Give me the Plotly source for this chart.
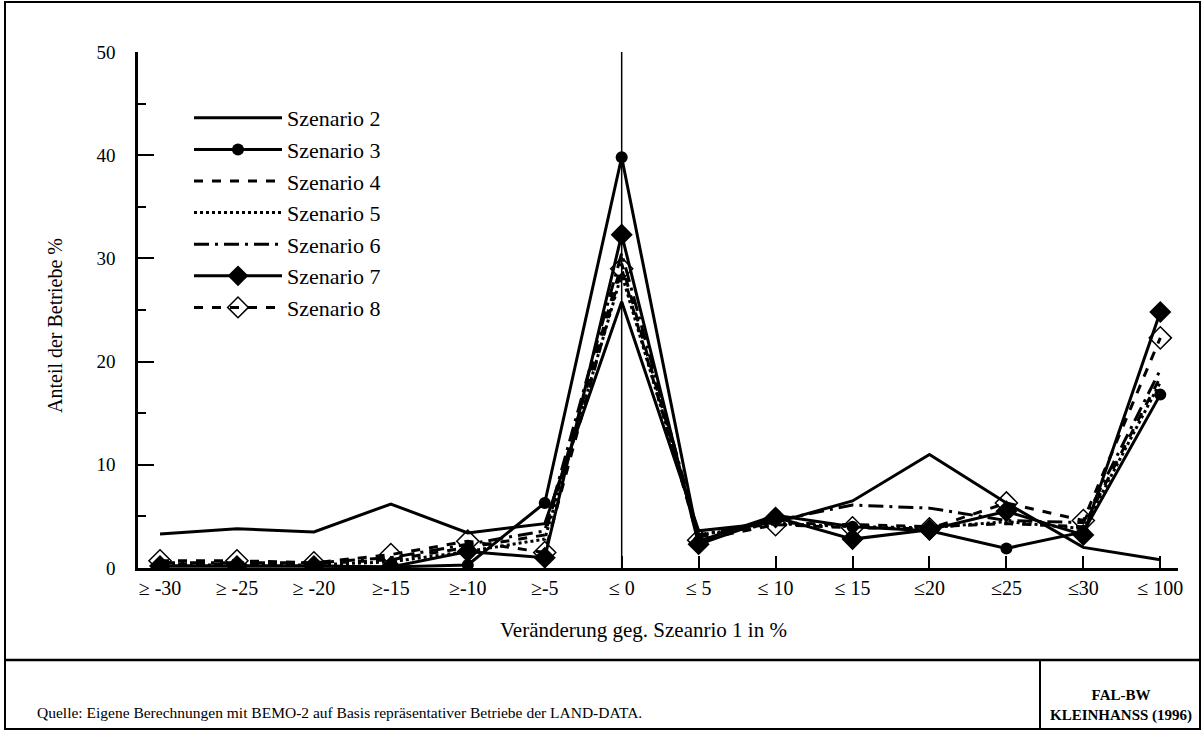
import plotly.graph_objects as go

categories = ["≥ -30", "≥ -25", "≥ -20", "≥-15", "≥-10", "≥-5", "≤ 0",
              "≤ 5", "≤ 10", "≤ 15", "≤20", "≤25", "≤30", "≤ 100"]

szenario_2 = [3.3, 3.8, 3.5, 6.2, 3.4, 4.3, 25.8, 3.6, 4.4, 6.5, 11.0, 6.3, 2.0, 0.8]
szenario_3 = [0.2, 0.2, 0.2, 0.1, 0.3, 6.3, 39.8, 2.6, 5.1, 4.0, 3.6, 1.9, 3.5, 16.8]
szenario_4 = [0.4, 0.4, 0.4, 0.8, 2.0, 3.2, 29.5, 3.0, 4.4, 4.2, 4.0, 4.3, 4.0, 18.5]
szenario_5 = [0.3, 0.3, 0.3, 0.6, 1.6, 2.8, 28.5, 3.2, 4.3, 4.0, 3.9, 4.5, 3.8, 18.0]
szenario_6 = [0.5, 0.5, 0.5, 1.0, 2.3, 3.6, 30.5, 3.2, 4.6, 6.1, 5.8, 4.6, 4.4, 19.2]
szenario_7 = [0.2, 0.2, 0.2, 0.1, 1.6, 1.0, 32.3, 2.3, 4.9, 2.8, 3.7, 5.5, 3.2, 24.8]
szenario_8 = [0.7, 0.7, 0.5, 1.3, 2.6, 1.5, 29.0, 2.7, 4.2, 3.9, 3.8, 6.3, 4.6, 22.3]

series_names = ["Szenario 2", "Szenario 3", "Szenario 4", "Szenario 5",
                "Szenario 6", "Szenario 7", "Szenario 8"]

FONT = "Liberation Serif, Times New Roman, serif"
BLACK = "#000000"

# pixel -> paper helpers for layout decoration
L, R, T, B = 138, 1178, 52, 568
def px(x):
    return (x - L) / (R - L)
def py(y):
    return (B - y) / (B - T)

fig = go.Figure()

styles = [
    dict(series=szenario_2, dash="solid", mode="lines", marker=None),
    dict(series=szenario_3, dash="solid", mode="lines+markers",
         marker=dict(symbol="circle", size=12, color=BLACK)),
    dict(series=szenario_4, dash="dash", mode="lines", marker=None),
    dict(series=szenario_5, dash="dot", mode="lines", marker=None),
    dict(series=szenario_6, dash="longdashdot", mode="lines", marker=None),
    dict(series=szenario_7, dash="solid", mode="lines+markers",
         marker=dict(symbol="diamond", size=17, color=BLACK)),
    dict(series=szenario_8, dash="dash", mode="lines+markers",
         marker=dict(symbol="diamond-open", size=17, color=BLACK,
                     line=dict(width=1.5, color=BLACK))),
]

for name, st in zip(series_names, styles):
    kw = dict(x=categories, y=st["series"], name=name, mode=st["mode"],
              line=dict(color=BLACK, width=3, dash=st["dash"]),
              legendgroup=name)
    if st["marker"] is not None:
        kw["marker"] = st["marker"]
    fig.add_trace(go.Scatter(**kw))

# vertical reference line at "≤ 0"
fig.add_shape(type="line", xref="x", yref="paper",
              x0=categories.index("≤ 0"), x1=categories.index("≤ 0"),
              y0=0, y1=1, line=dict(color=BLACK, width=1.5), layer="below")

# frame lines
frame = dict(color=BLACK, width=2)
fig.add_shape(type="rect", xref="paper", yref="paper",
              x0=px(5), x1=px(1200), y0=py(729), y1=py(2), line=frame)
fig.add_shape(type="line", xref="paper", yref="paper",
              x0=px(5), x1=px(1200), y0=py(660), y1=py(660),
              line=dict(color=BLACK, width=2.5))
fig.add_shape(type="line", xref="paper", yref="paper",
              x0=px(1040), x1=px(1040), y0=py(660), y1=py(729), line=frame)

annotations = [
    dict(text="Anteil der Betriebe %", x=px(55), y=py(326), xref="paper",
         yref="paper", textangle=-90, showarrow=False,
         font=dict(family=FONT, size=20, color=BLACK),
         xanchor="center", yanchor="middle"),
    dict(text="Veränderung geg. Szeanrio 1 in %", x=px(643), y=py(630),
         xref="paper", yref="paper", showarrow=False,
         font=dict(family=FONT, size=21, color=BLACK),
         xanchor="center", yanchor="middle"),
    dict(text="Quelle: Eigene Berechnungen mit BEMO-2 auf Basis repräsentativer Betriebe der LAND-DATA.",
         x=px(35), y=py(712), xref="paper", yref="paper", showarrow=False,
         font=dict(family=FONT, size=15.5, color=BLACK),
         xanchor="left", yanchor="middle"),
    dict(text="<b>FAL-BW</b><br><b>KLEINHANSS (1996)</b>",
         x=px(1121), y=py(705), xref="paper", yref="paper", showarrow=False,
         font=dict(family=FONT, size=15, color=BLACK),
         xanchor="center", yanchor="middle", align="center"),
]

fig.update_layout(
    width=1204, height=731,
    margin=dict(l=L, r=1204 - R, t=T, b=731 - B),
    paper_bgcolor="white", plot_bgcolor="white",
    font=dict(family=FONT, color=BLACK),
    showlegend=True,
    legend=dict(x=px(189), y=py(97), xanchor="left", yanchor="top",
                bgcolor="rgba(0,0,0,0)", font=dict(family=FONT, size=22, color=BLACK),
                itemwidth=88, tracegroupgap=9, traceorder="normal"),
    annotations=annotations,
    xaxis=dict(type="category", range=[-0.286, 13.23],
               showline=True, linecolor=BLACK, linewidth=2.5,
               ticks="inside", ticklen=12, tickwidth=2, tickcolor=BLACK,
               showgrid=False, zeroline=False,
               tickfont=dict(family=FONT, size=20, color=BLACK)),
    yaxis=dict(range=[0, 50], tickvals=[0, 10, 20, 30, 40, 50],
               showline=True, linecolor=BLACK, linewidth=2.5,
               ticks="inside", ticklen=16, tickwidth=2, tickcolor=BLACK,
               minor=dict(ticks="inside", ticklen=8, tickwidth=2,
                          tickcolor=BLACK, dtick=5, showgrid=False),
               ticklabelstandoff=16,
               showgrid=False, zeroline=False,
               tickfont=dict(family=FONT, size=19, color=BLACK)),
)

fig.write_html("out.html", post_script="document.body.style.margin='0';",
               config={"displayModeBar": False})
